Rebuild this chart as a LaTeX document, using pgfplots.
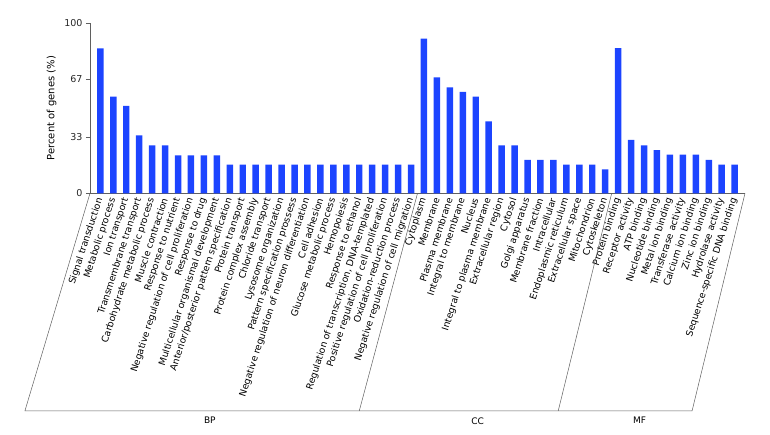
\documentclass[border=0pt]{standalone}
\usepackage{pgfplots}
\pgfplotsset{compat=1.18}
\usepackage{fontspec}
\setmainfont{DejaVu Sans}
\definecolor{barblue}{RGB}{28,68,255}
\definecolor{axgray}{RGB}{95,95,95}

\begin{document}
\begin{tikzpicture}
% page = 770 x 435 px, 1px = 1pt, axis box lower-left at pixel (90,193.3)
\useasboundingbox (-90pt,-241.7pt) rectangle (680pt,193.3pt);
\begin{axis}[
    at={(0,0)}, anchor=south west,
    scale only axis,
    width=655pt, height=170.3pt,
    xmin=-0.8, xmax=49.8,
    ymin=0, ymax=100,
    clip=false,
    axis x line=bottom, axis y line=left,
    axis line style={-, axgray, line width=0.8pt},
    ytick={0,33,67,100},
    tick align=outside,
    major tick length=4pt,
    ytick style={axgray, line width=0.6pt},
    xtick style={draw=none},
    /pgf/number format/assume math mode=true,
    yticklabel style={font=\fontsize{9.5}{10}\selectfont, color=black!85},
    ylabel={Percent of genes (\%)},
    ylabel style={font=\fontsize{10}{11}\selectfont, at={(axis description cs:0,0.5)}, anchor=south, yshift=30pt},
    xtick=data,
    xticklabels={Signal transduction, Metabolic process, Ion transport,
        Transmembrane transport, Carbohydrate metabolic process,
        Muscle contraction, Response to nutrient,
        Negative regulation of cell proliferation, Response to drug,
        Multicellular organismal development,
        Anterior/posterior pattern specification, Protein transport,
        Protein complex assembly, Chloride transport,
        Lysosome organization, Pattern specification prossess,
        Negative regulation of neuron differentiation, Cell adhesion,
        Glucose metabolic process, Hemopoiesis, Response to ethanol,
        {Regulation of transcription, DNA-templated},
        Positive regulation of cell proliferation,
        Oxidation-reduction process,
        Negative regulation of cell migration,
        Cytoplasm, Membrane, Plasma membrane, Integral to membrane,
        Nucleus, Integral to plasma membrane, Extracellular region,
        Cytosol, Golgi apparatus, Membrane fraction, Intracellular,
        Endoplasmic reticulum, Extracellular space, Mitochondrion,
        Cytoskeleton,
        Protein binding, Receptor activity, ATP binding,
        Nucleotide binding, Metal ion binding, Transferase activity,
        Calcium ion binding, Zinc ion binding, Hydrolase activity,
        Sequence-specific DNA binding},
    xticklabel style={rotate=72, anchor=east, inner sep=1pt,
        font=\fontsize{9.3}{10}\selectfont},
]
\addplot[ybar, bar width=0.5, fill=barblue, draw=none] coordinates {
    % BP
    (0,85.1)(1,56.7)(2,51.3)(3,34.0)(4,28.2)(5,28.2)(6,22.3)(7,22.3)
    (8,22.3)(9,22.3)(10,16.8)(11,16.8)(12,16.8)(13,16.8)(14,16.8)
    (15,16.8)(16,16.8)(17,16.8)(18,16.8)(19,16.8)(20,16.8)(21,16.8)
    (22,16.8)(23,16.8)(24,16.8)
    % CC
    (25,90.8)(26,68.1)(27,62.2)(28,59.5)(29,56.7)(30,42.3)(31,28.2)
    (32,28.2)(33,19.6)(34,19.6)(35,19.6)(36,16.8)(37,16.8)(38,16.8)
    (39,14.1)
    % MF
    (40,85.3)(41,31.3)(42,28.2)(43,25.4)(44,22.7)(45,22.7)(46,22.7)
    (47,19.6)(48,16.8)(49,16.8)
};

% group frame below the labels
\draw[axgray, line width=0.5pt] (axis cs:-0.8,0) -- (axis cs:-5.83,-127.8)
    -- (axis cs:45.71,-127.8) -- (axis cs:49.8,0);
\draw[axgray, line width=0.5pt] (axis cs:24.5,0) -- (axis cs:20,-127.8);
\draw[axgray, line width=0.5pt] (axis cs:39.5,0) -- (axis cs:35.37,-127.8);
\node[font=\fontsize{9}{10}\selectfont, anchor=north] at (axis cs:8.46,-129.5) {BP};
\node[font=\fontsize{9}{10}\selectfont, anchor=north] at (axis cs:29.15,-129.5) {CC};
\node[font=\fontsize{9}{10}\selectfont, anchor=north] at (axis cs:41.66,-129.5) {MF};
\end{axis}
\end{tikzpicture}
\end{document}
